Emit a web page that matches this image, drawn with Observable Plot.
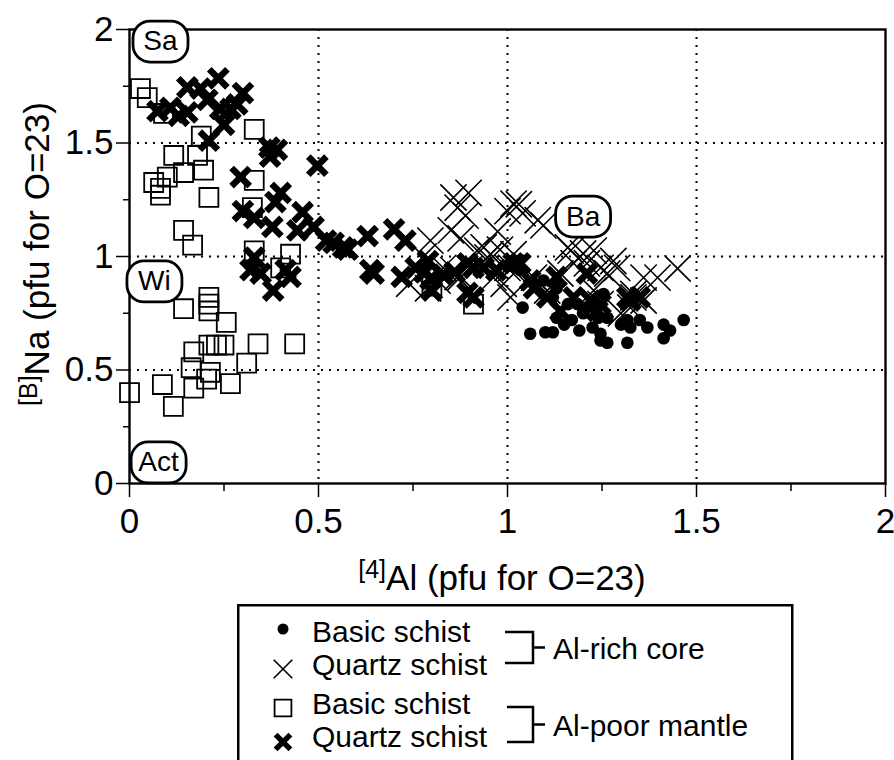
<!DOCTYPE html>
<html>
<head>
<meta charset="utf-8">
<script src="https://cdn.jsdelivr.net/npm/d3@7"></script>
<script src="https://cdn.jsdelivr.net/npm/@observablehq/plot@0.6"></script>
<style>
  html, body { margin: 0; padding: 0; background: #fff; overflow: hidden; }
  #wrap { position: relative; width: 894px; height: 760px; overflow: hidden; }
  #legend { position: absolute; left: 237px; top: 604px; }
  svg text { font-family: "Liberation Sans", Arial, Helvetica, sans-serif; }
</style>
</head>
<body>
<div id="wrap"></div>
<script>
// ---------------- data ----------------
// Al-rich core, basic schist (filled circles) : [ [4]Al, [B]Na ]
const coreBasic = [
  [1.04,0.775],[1.06,0.66],[1.10,0.666],[1.12,0.666],[1.17,0.72],[1.16,0.79],[1.19,0.674],
  [1.225,0.687],[1.246,0.66],[1.254,0.835],[1.264,0.73],[1.246,0.63],[1.30,0.70],[1.317,0.72],
  [1.325,0.687],[1.317,0.62],[1.35,0.72],[1.37,0.687],[1.413,0.70],[1.413,0.64],[1.43,0.674],
  [1.466,0.72],[1.095,0.894],[1.13,0.86],[1.185,0.79],[1.20,0.75],[1.13,0.73],[1.15,0.70],
  [1.016,0.97],[1.034,0.94],[1.12,0.82],[1.21,0.775],[1.24,0.73],[1.264,0.62],[1.0,0.96],[1.07,0.88]
];
// Al-rich core, quartz schist (thin crosses)
const coreQuartz = [
  [0.857,1.26],[0.897,1.28],[0.868,1.215],[0.889,1.18],[0.85,1.115],[0.876,1.08],[0.796,1.07],
  [0.778,1.0],[0.83,0.95],[0.857,0.94],[0.876,0.91],[0.815,0.894],[0.955,1.01],[0.937,1.04],
  [0.974,1.11],[1.0,1.20],[1.016,1.233],[1.04,1.19],[1.095,1.137],[0.963,0.907],[1.0,0.95],
  [1.008,0.82],[1.016,1.01],[0.99,0.88],[1.167,1.026],[1.20,1.013],[1.228,1.026],[1.175,0.97],
  [1.21,0.97],[1.246,0.95],[1.264,0.925],[1.29,0.95],[1.36,0.907],[1.397,0.907],[1.45,0.947],
  [1.333,0.82],[1.36,0.806],[1.325,0.775],[0.868,0.91],[0.92,1.026],[0.947,0.996],[0.98,1.03],
  [1.07,0.907],[1.105,0.85],[1.14,0.925],[1.228,0.85],[1.246,0.79],[1.30,0.75],[1.08,1.16],
  [1.16,1.04],[1.28,0.98],[1.333,0.835],[1.01,0.95],[0.79,0.86],[0.74,0.88],[1.03,1.23]
];
// Al-poor mantle, basic schist (open squares)
const mantleBasic = [
  [0.029,1.74],[0.047,1.70],[0.09,1.63],[0.33,1.56],[0.19,1.53],[0.117,1.445],[0.18,1.445],
  [0.064,1.326],[0.082,1.30],[0.082,1.27],[0.10,1.35],[0.143,1.37],[0.196,1.38],[0.33,1.335],
  [0.21,1.26],[0.143,1.115],[0.167,1.05],[0.325,1.215],[0.33,1.025],[0.426,1.01],[0.40,0.95],
  [0.143,0.77],[0.21,0.82],[0.21,0.79],[0.21,0.76],[0.256,0.71],[0.21,0.61],[0.23,0.61],[0.25,0.61],
  [0.17,0.58],[0.34,0.615],[0.437,0.615],[0.31,0.53],[0.163,0.51],[0.214,0.49],[0.204,0.46],
  [0.17,0.42],[0.267,0.44],[0.087,0.436],[0.0,0.40],[0.116,0.34],[0.91,0.79],[0.80,0.87]
];
// Al-poor mantle, quartz schist (bold crosses)
const mantleQuartz = [
  [0.235,1.785],[0.153,1.745],[0.188,1.74],[0.30,1.72],[0.206,1.69],[0.074,1.64],[0.108,1.655],
  [0.13,1.62],[0.153,1.635],[0.24,1.65],[0.267,1.65],[0.285,1.67],[0.25,1.58],[0.21,1.51],
  [0.37,1.48],[0.39,1.47],[0.372,1.44],[0.497,1.40],[0.294,1.35],[0.40,1.28],[0.386,1.24],
  [0.30,1.20],[0.33,1.17],[0.378,1.13],[0.458,1.195],[0.444,1.115],[0.487,1.13],[0.54,1.06],
  [0.565,1.04],[0.63,1.09],[0.70,1.12],[0.73,1.07],[0.646,0.925],[0.72,0.91],[0.757,0.95],
  [0.79,0.98],[0.796,0.90],[0.80,0.85],[0.894,0.84],[0.91,0.82],[0.91,0.95],[0.937,0.95],
  [0.97,0.94],[1.016,0.97],[0.33,0.995],[0.32,0.94],[0.347,0.925],[0.38,0.85],[0.413,0.94],
  [0.426,0.91],[0.52,1.07],[0.577,1.03],[0.637,0.94],[0.894,0.97],[1.034,0.97],[1.06,0.895],
  [1.13,0.91],[1.21,0.925],[1.175,0.82],[1.105,0.82],[1.246,0.79],[1.325,0.806],[1.35,0.82],
  [1.14,0.76],[1.22,0.806],[1.238,0.76],[1.317,0.82],[1.07,0.86],[0.78,0.93],[0.83,0.92],[0.86,0.93]
];
// end-member labels
const endMembers = ["Sa", "Wi", "Act", "Ba"];
const endMemberX = [0.082, 0.066, 0.077, 1.20];
const endMemberY = [1.947, 0.89, 0.093, 1.176];

const xTicks = [0, 0.5, 1, 1.5, 2];
const xTickLabels = ["0", "0.5", "1", "1.5", "2"];
const yTicks = [0, 0.5, 1, 1.5, 2];
const yTickLabels = ["0", "0.5", "1", "1.5", "2"];
const minorTicks = [0.25, 0.75, 1.25, 1.75];
const gridTicks = [0.5, 1, 1.5];

const xTitleSup = "[4]", xTitle = "Al (pfu for O=23)";
const yTitleSup = "[B]", yTitle = "Na (pfu for O=23)";

const legendRows = ["Basic schist", "Quartz schist", "Basic schist", "Quartz schist"];
const legendGroups = ["Al-rich core", "Al-poor mantle"];

// ---------------- chart ----------------
const toRows = (a) => a.map(([x, y]) => ({x, y}));
const labels = endMembers.map((t, i) => ({t, x: endMemberX[i], y: endMemberY[i]}));

const pill = {
  draw(ctx) {
    const w = 27.5, h = 20.5, r = 17;
    ctx.moveTo(-w + r, -h); ctx.lineTo(w - r, -h);
    ctx.arcTo(w, -h, w, -h + r, r); ctx.lineTo(w, h - r);
    ctx.arcTo(w, h, w - r, h, r); ctx.lineTo(-w + r, h);
    ctx.arcTo(-w, h, -w, h - r, r); ctx.lineTo(-w, -h + r);
    ctx.arcTo(-w, -h, -w + r, -h, r); ctx.closePath();
  }
};

const W = 894, H = 604;
const chart = Plot.plot({
  width: W, height: H,
  marginLeft: 129, marginRight: 9, marginTop: 29, marginBottom: H - 483,
  style: {fontFamily: "Liberation Sans, Arial, Helvetica, sans-serif", background: "white", overflow: "visible"},
  x: {domain: [0, 2], label: null},
  y: {domain: [0, 2], label: null},
  marks: [
    Plot.gridX({ticks: gridTicks, stroke: "black", strokeOpacity: 1, strokeWidth: 2, strokeDasharray: "2,6"}),
    Plot.gridY({ticks: gridTicks, stroke: "black", strokeOpacity: 1, strokeWidth: 2, strokeDasharray: "2,6"}),
    Plot.axisX({ticks: xTicks, tickSize: 14, tickPadding: 11, fontSize: 35, strokeWidth: 1.5,
      tickFormat: (d) => xTickLabels[xTicks.indexOf(d)]}),
    Plot.axisX({ticks: minorTicks, tickSize: 8, strokeWidth: 1.5, tickFormat: () => ""}),
    Plot.axisY({ticks: yTicks, tickSize: 13, tickPadding: 3, fontSize: 35, strokeWidth: 1.5,
      tickFormat: (d) => yTickLabels[yTicks.indexOf(d)]}),
    Plot.axisY({ticks: minorTicks, tickSize: 6, strokeWidth: 1.5, tickFormat: () => ""}),
    Plot.frame({stroke: "black", strokeWidth: 2.4}),
    Plot.dot(toRows(mantleBasic), {x: "x", y: "y", symbol: "square", r: 10.7, stroke: "black", strokeWidth: 1.8, fill: "none"}),
    Plot.dot(toRows(mantleQuartz), {x: "x", y: "y", symbol: "times", r: 8.3, stroke: "black", strokeWidth: 6.5}),
    Plot.dot(toRows(coreQuartz), {x: "x", y: "y", symbol: "times", r: 12, stroke: "black", strokeWidth: 1.6}),
    Plot.dot(toRows(coreBasic), {x: "x", y: "y", r: 6.3, fill: "black", stroke: "none"}),
    Plot.dot(labels, {x: "x", y: "y", symbol: pill, r: 10, fill: "white", stroke: "black", strokeWidth: 2.8}),
    Plot.text(labels, {x: "x", y: "y", text: "t", fontSize: 28, fill: "black"})
  ]
});

const svg = d3.select(chart);
// x axis title with superscript
const xt = svg.append("text").attr("x", 502).attr("y", 590).attr("text-anchor", "middle")
  .attr("font-size", 35).attr("fill", "black");
xt.append("tspan").attr("font-size", 25).attr("dy", -12).text(xTitleSup);
xt.append("tspan").attr("dy", 12).text(xTitle);
// y axis title with superscript
const yt = svg.append("text").attr("transform", "translate(49,254) rotate(-90)").attr("text-anchor", "middle")
  .attr("font-size", 35).attr("fill", "black");
yt.append("tspan").attr("font-size", 25).attr("dy", -12).text(yTitleSup);
yt.append("tspan").attr("dy", 12).text(yTitle);

document.getElementById("wrap").appendChild(chart);

// ---------------- legend ----------------
const lg = d3.select("#wrap").append("svg").attr("id", "legend")
  .attr("width", 600).attr("height", 170);
lg.append("rect").attr("x", 1.25).attr("y", 1.25).attr("width", 554).attr("height", 200)
  .attr("fill", "white").attr("stroke", "black").attr("stroke-width", 2.5);
const rowY = [38, 71, 110, 143];
const markY = [25, 65, 104, 138];
lg.append("circle").attr("cx", 46).attr("cy", markY[0]).attr("r", 5.5).attr("fill", "black");
lg.append("path").attr("d", d3.symbol(d3.symbolTimes, Math.PI * 8.5 * 8.5)())
  .attr("transform", `translate(46,${markY[1]})`).attr("fill", "none").attr("stroke", "black").attr("stroke-width", 1.6);
lg.append("path").attr("d", d3.symbol(d3.symbolSquare, Math.PI * 9.5 * 9.5)())
  .attr("transform", `translate(46,${markY[2]})`).attr("fill", "none").attr("stroke", "black").attr("stroke-width", 1.8);
lg.append("path").attr("d", d3.symbol(d3.symbolTimes, Math.PI * 6.8 * 6.8)())
  .attr("transform", `translate(46,${markY[3]})`).attr("fill", "none").attr("stroke", "black").attr("stroke-width", 5.5);
legendRows.forEach((t, i) => {
  lg.append("text").attr("x", 75).attr("y", rowY[i]).attr("font-size", 30).attr("fill", "black").text(t);
});
const brackets = [{y1: 28, y2: 59, x0: 268}, {y1: 103, y2: 138, x0: 270}];
brackets.forEach((b, i) => {
  const m = (b.y1 + b.y2) / 2;
  lg.append("path").attr("d", `M${b.x0},${b.y1}H296V${b.y2}H${b.x0}M296,${m}H308`)
    .attr("fill", "none").attr("stroke", "black").attr("stroke-width", 2.5);
  lg.append("text").attr("x", 316).attr("y", m + 11).attr("font-size", 30).attr("fill", "black").text(legendGroups[i]);
});
</script>
</body>
</html>
